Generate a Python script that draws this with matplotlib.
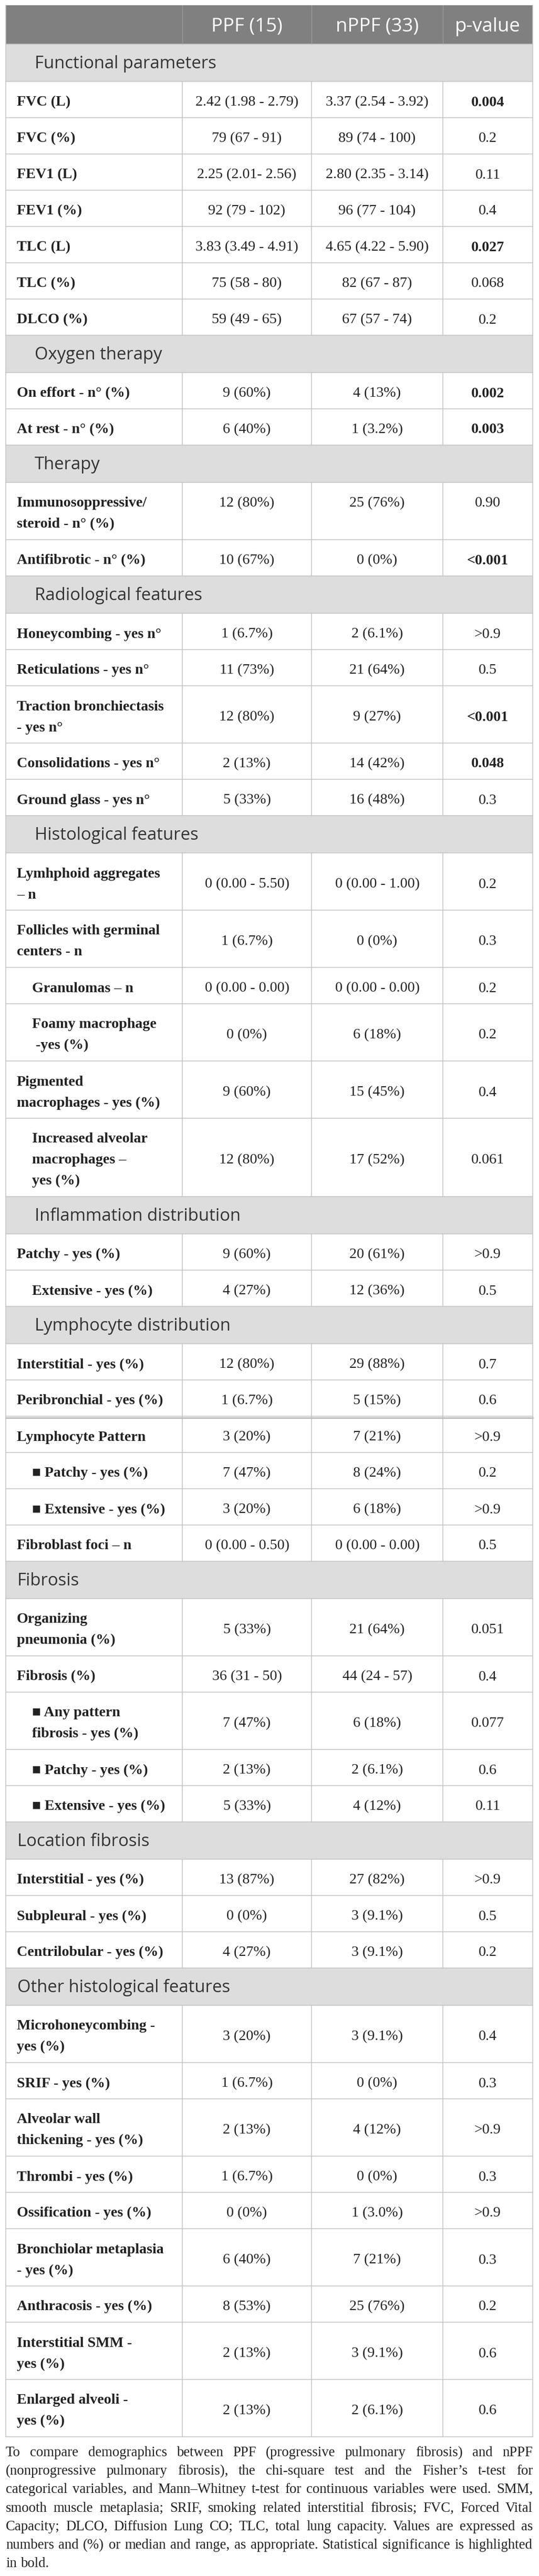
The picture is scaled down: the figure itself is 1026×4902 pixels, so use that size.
import matplotlib
matplotlib.use("Agg")
import matplotlib.pyplot as plt
from matplotlib.patches import Rectangle

# ---------- data ----------
HEADERS = ["", "PPF (15)", "nPPF (33)", "p-value"]

SECTIONS = ["Functional parameters", "Oxygen therapy", "Therapy", "Radiological features",
            "Histological features", "Inflammation distribution", "Lymphocyte distribution",
            "Fibrosis", "Location fibrosis", "Other histological features"]
SECTION_SIZES = [7, 2, 2, 5, 6, 2, 6, 5, 3, 9]
SECTION_DEEP = [1, 1, 1, 1, 1, 1, 1, 0, 0, 0]

LABELS = [
    "FVC (L)", "FVC (%)", "FEV1 (L)", "FEV1 (%)", "TLC (L)", "TLC (%)", "DLCO (%)",
    "On effort - n° (%)", "At rest - n° (%)",
    "Immunosoppressive/\nsteroid - n° (%)", "Antifibrotic - n° (%)",
    "Honeycombing - yes n°", "Reticulations - yes n°", "Traction bronchiectasis\n- yes n°",
    "Consolidations - yes n°", "Ground glass - yes n°",
    "Lymhphoid aggregates\n– n", "Follicles with germinal\ncenters - n", "Granulomas – n",
    "Foamy macrophage\n -yes (%)", "Pigmented\nmacrophages - yes (%)",
    "Increased alveolar\nmacrophages –\nyes (%)",
    "Patchy - yes (%)", "Extensive - yes (%)",
    "Interstitial - yes (%)", "Peribronchial - yes (%)", "Lymphocyte Pattern",
    "■ Patchy - yes (%)", "■ Extensive - yes (%)", "Fibroblast foci – n",
    "Organizing\npneumonia (%)", "Fibrosis (%)", "■ Any pattern\nfibrosis - yes (%)",
    "■ Patchy - yes (%)", "■ Extensive - yes (%)",
    "Interstitial - yes (%)", "Subpleural - yes (%)", "Centrilobular - yes (%)",
    "Microhoneycombing -\nyes (%)", "SRIF - yes (%)", "Alveolar wall\nthickening - yes (%)",
    "Thrombi - yes (%)", "Ossification - yes (%)", "Bronchiolar metaplasia\n- yes (%)",
    "Anthracosis - yes (%)", "Interstitial SMM -\nyes (%)", "Enlarged alveoli -\nyes (%)",
]
INDENT = [0]*18 + [1, 1, 0, 1] + [0, 1] + [0, 0, 0, 1, 1, 0] + [0, 0, 1, 1, 1] + [0]*3 + [0]*9

PPF = [
    "2.42 (1.98 - 2.79)", "79 (67 - 91)", "2.25 (2.01- 2.56)", "92 (79 - 102)",
    "3.83 (3.49 - 4.91)", "75 (58 - 80)", "59 (49 - 65)",
    "9 (60%)", "6 (40%)",
    "12 (80%)", "10 (67%)",
    "1 (6.7%)", "11 (73%)", "12 (80%)", "2 (13%)", "5 (33%)",
    "0 (0.00 - 5.50)", "1 (6.7%)", "0 (0.00 - 0.00)", "0 (0%)", "9 (60%)", "12 (80%)",
    "9 (60%)", "4 (27%)",
    "12 (80%)", "1 (6.7%)", "3 (20%)", "7 (47%)", "3 (20%)", "0 (0.00 - 0.50)",
    "5 (33%)", "36 (31 - 50)", "7 (47%)", "2 (13%)", "5 (33%)",
    "13 (87%)", "0 (0%)", "4 (27%)",
    "3 (20%)", "1 (6.7%)", "2 (13%)", "1 (6.7%)", "0 (0%)", "6 (40%)", "8 (53%)",
    "2 (13%)", "2 (13%)",
]
NPPF = [
    "3.37 (2.54 - 3.92)", "89 (74 - 100)", "2.80 (2.35 - 3.14)", "96 (77 - 104)",
    "4.65 (4.22 - 5.90)", "82 (67 - 87)", "67 (57 - 74)",
    "4 (13%)", "1 (3.2%)",
    "25 (76%)", "0 (0%)",
    "2 (6.1%)", "21 (64%)", "9 (27%)", "14 (42%)", "16 (48%)",
    "0 (0.00 - 1.00)", "0 (0%)", "0 (0.00 - 0.00)", "6 (18%)", "15 (45%)", "17 (52%)",
    "20 (61%)", "12 (36%)",
    "29 (88%)", "5 (15%)", "7 (21%)", "8 (24%)", "6 (18%)", "0 (0.00 - 0.00)",
    "21 (64%)", "44 (24 - 57)", "6 (18%)", "2 (6.1%)", "4 (12%)",
    "27 (82%)", "3 (9.1%)", "3 (9.1%)",
    "3 (9.1%)", "0 (0%)", "4 (12%)", "0 (0%)", "1 (3.0%)", "7 (21%)", "25 (76%)",
    "3 (9.1%)", "2 (6.1%)",
]
PVAL = [
    "0.004", "0.2", "0.11", "0.4", "0.027", "0.068", "0.2",
    "0.002", "0.003",
    "0.90", "<0.001",
    ">0.9", "0.5", "<0.001", "0.048", "0.3",
    "0.2", "0.3", "0.2", "0.2", "0.4", "0.061",
    ">0.9", "0.5",
    "0.7", "0.6", ">0.9", "0.2", ">0.9", "0.5",
    "0.051", "0.4", "0.077", "0.6", "0.11",
    ">0.9", "0.5", "0.2",
    "0.4", "0.3", ">0.9", "0.3", ">0.9", "0.3", "0.2", "0.6", "0.6",
]
SIGNIFICANT = 0.05
TOP_ALIGNED = ["Immunosoppressive/\nsteroid - n° (%)"]

FOOTNOTE = [
    "To compare demographics between PPF (progressive pulmonary fibrosis) and nPPF",
    "(nonprogressive pulmonary fibrosis), the chi-square test and the Fisher\u2019s t-test for",
    "categorical variables, and Mann\u2013Whitney t-test for continuous variables were used. SMM,",
    "smooth muscle metaplasia; SRIF, smoking related interstitial fibrosis; FVC, Forced Vital",
    "Capacity; DLCO, Diffusion Lung CO; TLC, total lung capacity. Values are expressed as",
    "numbers and (%) or median and range, as appropriate. Statistical significance is highlighted",
    "in bold.",
]

# ---------- layout ----------
W, H = 1026, 4902
COLS = [11, 347, 593, 843, 1014]
TOP = 10
HEAD_H, SEC_H, ROW_H, LINE_H = 74, 71, 69, 40
SERIF = ["Liberation Serif", "DejaVu Serif"]
SANS = ["Open Sans", "DejaVu Sans"]
GRID = "#c4c4c4"
TXT = "#222222"


def is_sig(p):
    if p.startswith("<"):
        return True
    if p.startswith(">"):
        return False
    return float(p) < SIGNIFICANT


fig = plt.figure(figsize=(W/100, H/100), dpi=100)
ax = fig.add_axes([0, 0, 1, 1])
ax.set_xlim(0, W); ax.set_ylim(H, 0); ax.axis("off")

# header
ax.add_patch(Rectangle((COLS[0], TOP), COLS[-1]-COLS[0], HEAD_H, fc="#808080", ec="none"))
for i in range(1, 4):
    ax.plot([COLS[i], COLS[i]], [TOP, TOP+HEAD_H], color="#9a9a9a", lw=1.0)
    ax.text((COLS[i]+COLS[i+1])/2, TOP+HEAD_H/2+13, HEADERS[i], ha="center", va="baseline",
            color="white", fontsize=26.3, family=SANS)

y = TOP + HEAD_H
r = 0
hlines = [y]
for s, title in enumerate(SECTIONS):
    ax.add_patch(Rectangle((COLS[0], y), COLS[-1]-COLS[0], SEC_H, fc="#dddddd", ec="none"))
    ax.text(66 if SECTION_DEEP[s] else 33, y+SEC_H/2+10.5, title, ha="left", va="baseline",
            color="#333333", fontsize=23.7, family=SANS)
    y += SEC_H
    hlines.append(y)
    for _ in range(SECTION_SIZES[s]):
        lab = LABELS[r]
        lines = lab.split("\n")
        h = ROW_H + LINE_H*(len(lines)-1)
        cy = y + h/2
        x0 = 61 if INDENT[r] else 32
        for k, ln in enumerate(lines):
            ax.text(x0, cy+12+(k-(len(lines)-1)/2)*LINE_H, ln, ha="left", va="baseline",
                    color=TXT, fontsize=20.2, fontweight="bold", family=SERIF)
        vy = cy + 12
        if lab in TOP_ALIGNED:
            vy = cy + 12 - (len(lines)-1)/2*LINE_H
        for c, val in enumerate([PPF[r], NPPF[r], PVAL[r]]):
            bold = c == 2 and is_sig(val)
            ax.text((COLS[c+1]+COLS[c+2])/2, vy, val, ha="center", va="baseline", color=TXT,
                    fontsize=20.2, fontweight="bold" if bold else "normal", family=SERIF)
        for i in range(1, 4):
            ax.plot([COLS[i], COLS[i]], [y, y+h], color=GRID, lw=1.1)
        y += h
        hlines.append(y)
        r += 1

for i, yy in enumerate(hlines):
    ax.plot([COLS[0], COLS[-1]], [yy, yy], color=GRID, lw=1.1)
# thicker separator seen before "Lymphocyte Pattern"
ax.plot([COLS[0], COLS[-1]], [2698, 2698], color="#bdbdbd", lw=2.2)
ax.plot([COLS[0], COLS[0]], [TOP, y], color=GRID, lw=1.1)
ax.plot([COLS[-1], COLS[-1]], [TOP, y], color=GRID, lw=1.1)

# footnote, justified
fig.canvas.draw()
rend = fig.canvas.get_renderer()
fy = y + 37
left, right = COLS[0], COLS[-1]
for li, line in enumerate(FOOTNOTE):
    words = line.split(" ")
    last = li == len(FOOTNOTE)-1
    arts = [ax.text(0, fy, w, ha="left", va="baseline", color=TXT, fontsize=19.3, family=SERIF)
            for w in words]
    widths = [a.get_window_extent(rend).width for a in arts]
    if last or len(words) < 2:
        gap = 0.25*19.3/0.72
    else:
        gap = (right-left-sum(widths))/(len(words)-1)
    x = left
    for a, wd in zip(arts, widths):
        a.set_x(x)
        x += wd + gap
    fy += 35.2

fig.savefig("out.png", dpi=100, facecolor="white")
